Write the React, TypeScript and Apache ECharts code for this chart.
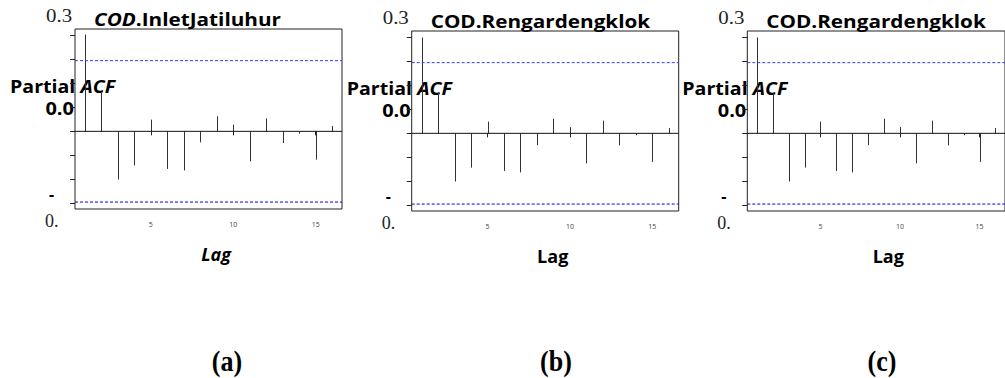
import React, { useEffect, useRef } from "react";
import * as echarts from "echarts";

const lags = [1, 2, 3, 4, 5, 6, 7, 8, 9, 10, 11, 12, 13, 14, 15, 16];
const pacfA = [0.404, 0.16, -0.201, -0.142, 0.049, -0.157, -0.163, -0.046, 0.063, 0.028, -0.125, 0.054, -0.049, -0.01, -0.118, 0.022];
const pacfB = [0.4, 0.167, -0.201, -0.143, 0.049, -0.157, -0.163, -0.049, 0.061, 0.026, -0.125, 0.053, -0.05, -0.008, -0.119, 0.022];
const pacfC = [0.4, 0.167, -0.201, -0.143, 0.049, -0.157, -0.163, -0.049, 0.061, 0.026, -0.125, 0.053, -0.05, -0.008, -0.119, 0.022];
const confLimit = 0.295;
const xRange = [0.4, 16.6];
const yTickValues = [-0.3, -0.2, -0.1, 0, 0.1, 0.2, 0.3, 0.4];
const xTickValues = [5, 10, 15];
const titles = [
  { italic: "COD", rest: ".InletJatiluhur" },
  { italic: "", rest: "COD.Rengardengklok" },
  { italic: "", rest: "COD.Rengardengklok" },
];
const lagLabels = ["Lag", "Lag", "Lag"];
const lagItalic = [true, false, false];
const panelLetters = ["(a)", "(b)", "(c)"];
const yTextTop = "0.3";
const yTextMid = "0.0";
const yTextDash = "-";
const yTextBottom = "0.";

const panels = [
  { left: 75, top: 29, data: pacfA, letterX: 227 },
  { left: 411.7, top: 31, data: pacfB, letterX: 556 },
  { left: 747.3, top: 31, data: pacfC, letterX: 882 },
];
const W = 267;
const H = 180;
const SANS = "'Open Sans', Lato, sans-serif";
const SERIF = "'Liberation Serif', 'DejaVu Serif', serif";

export default function App() {
  const ref = useRef<HTMLDivElement>(null);
  useEffect(() => {
    if (!ref.current) return;
    const chart = echarts.init(ref.current, null, { renderer: "svg" });
    const grids: any[] = [];
    const xAxes: any[] = [];
    const yAxes: any[] = [];
    const series: any[] = [];
    const graphics: any[] = [];
    panels.forEach((p, i) => {
      grids.push({
        left: p.left,
        top: p.top,
        width: W,
        height: H,
        show: true,
        borderColor: "#222",
        borderWidth: 1,
        backgroundColor: "transparent",
      });
      xAxes.push({
        type: "value",
        gridIndex: i,
        min: xRange[0],
        max: xRange[1],
        splitLine: { show: false },
        axisLine: { show: false },
        axisTick: { show: true, customValues: xTickValues, length: 4, lineStyle: { color: "#222" } },
        axisLabel: { show: true, customValues: xTickValues, fontSize: 7, color: "#444", margin: 12, fontFamily: SANS },
      });
      yAxes.push({
        type: "value",
        gridIndex: i,
        min: -0.324,
        max: 0.427,
        splitLine: { show: false },
        axisLine: { show: false },
        axisTick: { show: true, customValues: yTickValues, length: 5, lineStyle: { color: "#222" } },
        axisLabel: { show: false },
      });
      series.push({
        type: "line",
        xAxisIndex: i,
        yAxisIndex: i,
        data: [[xRange[0], 0], [xRange[1], 0]],
        symbol: "none",
        silent: true,
        lineStyle: { color: "#111", width: 1 },
      });
      series.push({
        type: "line",
        xAxisIndex: i,
        yAxisIndex: i,
        data: [[xRange[0], confLimit], [xRange[1], confLimit]],
        symbol: "none",
        silent: true,
        lineStyle: { color: "#3b3bff", width: 1, type: [3, 2] },
      });
      series.push({
        type: "line",
        xAxisIndex: i,
        yAxisIndex: i,
        data: [[xRange[0], -confLimit], [xRange[1], -confLimit]],
        symbol: "none",
        silent: true,
        lineStyle: { color: "#0000ff", width: 1, type: [3, 2] },
      });
      series.push({
        type: "custom",
        xAxisIndex: i,
        yAxisIndex: i,
        data: lags.map((l, k) => [l, p.data[k]]),
        renderItem: (params: any, api: any) => {
          const x = api.value(0);
          const v = api.value(1);
          const p0 = api.coord([x, 0]);
          const p1 = api.coord([x, v]);
          return {
            type: "line",
            shape: { x1: Math.round(p0[0]) + 0.5, y1: p0[1], x2: Math.round(p1[0]) + 0.5, y2: p1[1] },
            style: { stroke: "#333", lineWidth: 1 },
          };
        },
      });
      const ox = p.left;
      const ot = p.top;
      const t = titles[i];
      graphics.push({
        type: "text",
        x: ox + 19,
        y: ot - 10,
        scaleX: 1.12,
        style: {
          text: (t.italic ? "{i|" + t.italic + "}" : "") + "{n|" + t.rest + "}",
          verticalAlign: "middle",
          rich: {
            i: { fontFamily: SANS, fontSize: 18.5, lineHeight: 19, fontWeight: "bold", fontStyle: "italic", fill: "#000" },
            n: { fontFamily: SANS, fontSize: 18.5, lineHeight: 19, fontWeight: "bold", fill: "#000" },
          },
        },
      });
      graphics.push({
        type: "text",
        x: ox - 29,
        y: ot - 13.5,
        scaleX: 1.1,
        style: { text: yTextTop, font: "19px " + SERIF, fill: "#222", verticalAlign: "middle" },
      });
      graphics.push({
        type: "text",
        x: ox - 65,
        y: ot + 57.5,
        scaleX: 1.06,
        style: {
          text: "{n|Partial }{i|ACF}",
          verticalAlign: "middle",
          rich: {
            i: { fontFamily: SANS, fontSize: 18.5, lineHeight: 17, fontWeight: "bold", fontStyle: "italic", fill: "#000" },
            n: { fontFamily: SANS, fontSize: 18.5, lineHeight: 17, fontWeight: "bold", fill: "#000" },
          },
        },
      });
      graphics.push({
        type: "text",
        x: ox - 1,
        y: ot + 79,
        scaleX: 1.08,
        style: { text: yTextMid, font: "bold 18.5px " + SANS, lineHeight: 17, fill: "#000", align: "right", verticalAlign: "middle" },
      });
      graphics.push({
        type: "text",
        x: ox - 26,
        y: ot + 165,
        style: { text: yTextDash, font: "bold 16px " + SANS, fill: "#000", verticalAlign: "middle" },
      });
      graphics.push({
        type: "text",
        x: ox - 30,
        y: ot + 192,
        style: { text: yTextBottom, font: "18px " + SERIF, fill: "#222", verticalAlign: "middle" },
      });
      graphics.push({
        type: "text",
        x: ox + 141,
        y: ot + 225,
        style: {
          text: lagLabels[i],
          font: (lagItalic[i] ? "italic " : "") + "bold 18px " + SANS,
          fill: "#000",
          align: "center",
          verticalAlign: "middle",
        },
      });
      graphics.push({
        type: "text",
        x: p.letterX,
        y: 362,
        scaleY: 1.1,
        style: { text: panelLetters[i], font: "bold 26px " + SERIF, fill: "#000", align: "center", verticalAlign: "middle" },
      });
    });
    chart.setOption({
      animation: false,
      backgroundColor: "#fff",
      grid: grids,
      xAxis: xAxes,
      yAxis: yAxes,
      series,
      graphic: graphics,
    });
    return () => chart.dispose();
  }, []);
  return <div ref={ref} style={{ position: "fixed", left: 0, top: 0, width: 1005, height: 378 }} />;
}
